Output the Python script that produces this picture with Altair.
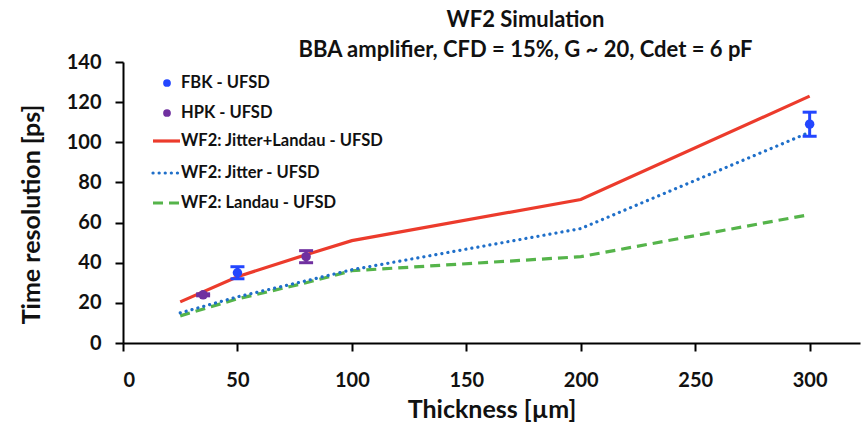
import altair as alt
import pandas as pd

# Simulated curves (thickness in µm, time resolution in ps)
thickness = [25, 50, 80, 100, 200, 300]
jitter_landau = [20.5, 33.0, 44.0, 51.0, 71.5, 123.0]
jitter = [15.0, 23.0, 31.0, 36.5, 57.0, 105.0]
landau = [13.5, 22.0, 30.0, 36.0, 43.0, 64.0]

# Measurements
fbk_x = [50, 300]
fbk_y = [35.0, 109.0]
fbk_err = [3.0, 6.0]
hpk_x = [35, 80]
hpk_y = [24.0, 43.0]
hpk_err = [0.5, 3.0]

FONT = "Lato"
RED = "#ec3b2c"
BLUE = "#1f6fc9"
GREEN = "#55b44a"
FBK_C = "#2346ff"
HPK_C = "#7030a0"

W, H = 737, 281

sim = pd.DataFrame({"t": thickness, "jl": jitter_landau, "j": jitter, "l": landau})


def meas(xv, yv, ev):
    return pd.DataFrame({"t": xv, "y": yv,
                         "lo": [v - e for v, e in zip(yv, ev)],
                         "hi": [v + e for v, e in zip(yv, ev)]})


fbk = meas(fbk_x, fbk_y, fbk_err)
hpk = meas(hpk_x, hpk_y, hpk_err)

xs = alt.Scale(domain=[0, 322], nice=False, zero=True)
ys = alt.Scale(domain=[0, 140], nice=False)
Y_TITLE = "Time resolution [ps]"
y_axis = alt.Axis(values=list(range(0, 141, 20)), titleY=152)

x_enc = alt.X("t:Q", scale=xs, title="Thickness [µm]",
              axis=alt.Axis(values=[0, 50, 100, 150, 200, 250, 300], format="d"))


def yq(col):
    return alt.Y(f"{col}:Q", scale=ys, title=Y_TITLE, axis=y_axis)


def curve(col, color, dash=None, cap="butt"):
    kw = dict(color=color, strokeWidth=3.2, strokeCap=cap)
    if dash:
        kw["strokeDash"] = dash
    return alt.Chart(sim).mark_line(**kw).encode(x=x_enc, y=yq(col))


red_line = curve("jl", RED)
blue_line = curve("j", BLUE, dash=[0.1, 6], cap="round")
green_line = curve("l", GREEN, dash=[10, 6])


def points(df, color):
    stem = alt.Chart(df).mark_rule(color=color, strokeWidth=3).encode(
        x=x_enc, y=yq("lo"), y2="hi:Q")
    cap_lo = alt.Chart(df).mark_tick(color=color, orient="horizontal", size=14,
                                     thickness=3, opacity=1).encode(x=x_enc, y=yq("lo"))
    cap_hi = alt.Chart(df).mark_tick(color=color, orient="horizontal", size=14,
                                     thickness=3, opacity=1).encode(x=x_enc, y=yq("hi"))
    dots = alt.Chart(df).mark_circle(color=color, size=90, opacity=1).encode(
        x=x_enc, y=yq("y"))
    return stem + cap_lo + cap_hi + dots


# Legend inside the plot area (pixel offsets within the view)
leg_text_x = 58
legend = []
leg_items = [
    ("FBK - UFSD", 21, "dot", FBK_C),
    ("HPK - UFSD", 51, "dot", HPK_C),
    ("WF2: Jitter+Landau - UFSD", 79, "solid", RED),
    ("WF2: Jitter - UFSD", 111, "dot_line", BLUE),
    ("WF2: Landau - UFSD", 141, "dash", GREEN),
]
base = alt.Chart(pd.DataFrame({"k": [0]}))
for label, yy, kind, col in leg_items:
    if kind == "dot":
        legend.append(base.mark_circle(color=col, size=60, opacity=1).encode(
            x=alt.value(44), y=alt.value(yy)))
    else:
        kw = dict(color=col, strokeWidth=3.2)
        if kind == "dot_line":
            kw.update(strokeDash=[0.1, 6], strokeCap="round")
        elif kind == "dash":
            kw.update(strokeDash=[10, 6])
        legend.append(base.mark_rule(**kw).encode(
            x=alt.value(30), x2=alt.value(57), y=alt.value(yy)))
    legend.append(base.mark_text(text=label, align="left", baseline="middle", font=FONT,
                                 fontSize=16.5, fontWeight="bold", color="#111").encode(
        x=alt.value(leg_text_x), y=alt.value(yy)))

chart = alt.layer(
    green_line, blue_line, red_line,
    points(hpk, HPK_C), points(fbk, FBK_C),
    *legend,
).properties(
    width=W, height=H,
    title=alt.TitleParams(
        ["WF2 Simulation", "BBA amplifier, CFD = 15%, G ~ 20, Cdet = 6 pF"],
        font=FONT, fontSize=22, fontWeight="bold", color="#111",
        anchor="middle", lineHeight=30, offset=-10, dx=34),
    autosize=alt.AutoSizeParams(type="none"),
    padding={"left": 123, "top": 62, "right": 1, "bottom": 86},
).configure_view(stroke=None).configure_axis(
    grid=False, domainColor="#000", domainWidth=2, tickColor="#000", tickWidth=2,
    tickSize=8, labelFont=FONT, labelFontSize=20, labelFontWeight="bold", labelColor="#111",
    titleFont=FONT, titleFontSize=25, titleFontWeight="bold", titleColor="#111",
).configure_axisX(labelPadding=19, titlePadding=7).configure_axisY(
    labelPadding=14, titlePadding=22)

chart.save("out.html", embed_options={"renderer": "svg", "actions": False})
